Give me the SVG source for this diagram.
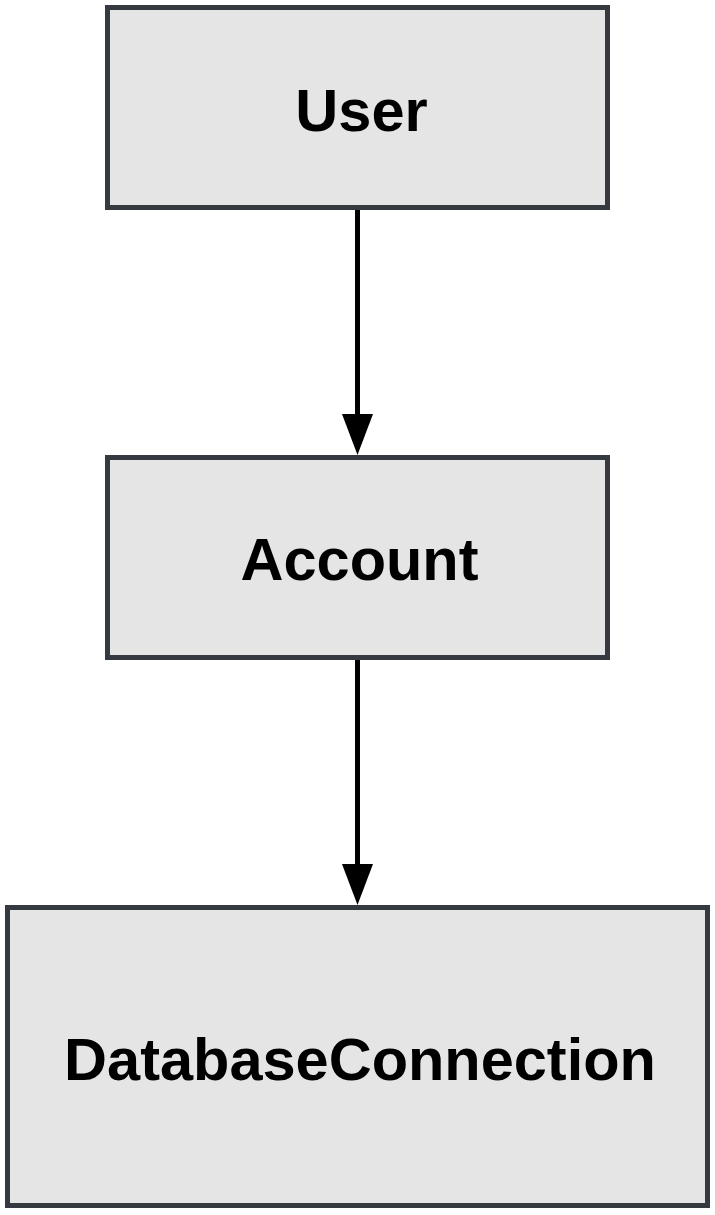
<svg xmlns="http://www.w3.org/2000/svg" width="715" height="1215" viewBox="0 0 715 1215">
  <style>
    .node rect { fill: #e5e5e5; stroke: #343a40; stroke-width: 5; }
    .node text { font-family: "Liberation Sans", Arial, sans-serif; font-weight: bold; font-size: 59.5px; fill: #000; text-anchor: middle; }
    .edge line { stroke: #000; stroke-width: 5; }
    .edge polygon { fill: #000; }
  </style>
  <rect width="715" height="1215" fill="#ffffff"/>

  <g id="edges">
    <g class="edge" id="user-account">
      <line x1="357.5" y1="210" x2="357.5" y2="416"/>
      <polygon points="342,414 373,414 357.5,455"/>
    </g>
    <g class="edge" id="account-db">
      <line x1="357.5" y1="660" x2="357.5" y2="866"/>
      <polygon points="342,864 373,864 357.5,905"/>
    </g>
  </g>

  <g class="node" id="User">
    <rect x="107.5" y="7.5" width="500" height="200"/>
    <text x="361.5" y="131">User</text>
  </g>

  <g class="node" id="Account">
    <rect x="107.5" y="457.5" width="500" height="200"/>
    <text x="359.5" y="580">Account</text>
  </g>

  <g class="node" id="DatabaseConnection">
    <rect x="7.5" y="907.5" width="700" height="298"/>
    <text x="360" y="1080">DatabaseConnection</text>
  </g>
</svg>
